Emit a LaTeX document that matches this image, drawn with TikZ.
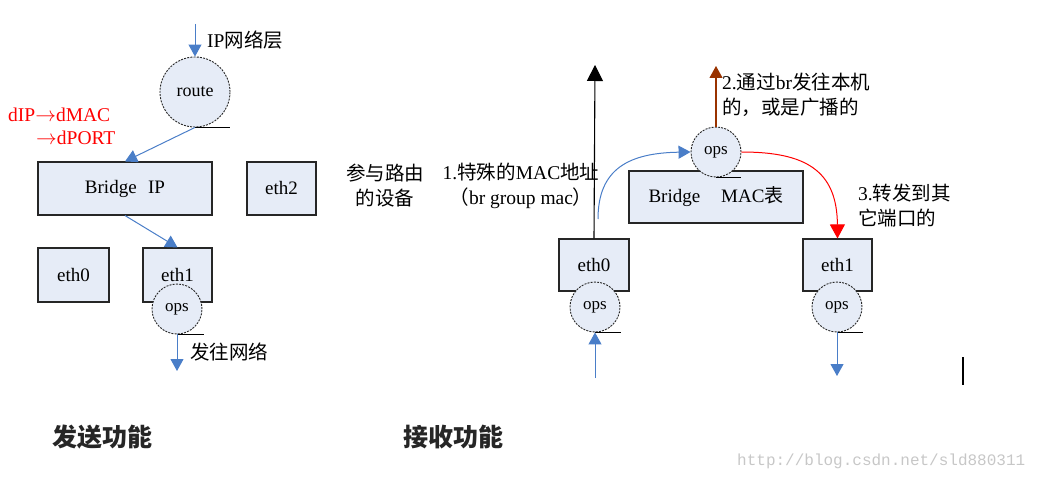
\documentclass[tikz,border=0pt]{standalone}
\usepackage{fontspec}
\setmainfont{Liberation Serif}
\newfontfamily\cjk{Noto Sans CJK SC}
\newfontfamily\wmfont{Liberation Mono}
\usetikzlibrary{arrows.meta}
\newcommand\zh[1]{{\cjk #1}}
\definecolor{boxfill}{HTML}{E6ECF7}
\definecolor{arrblue}{HTML}{4A7EC8}
\definecolor{darkbrn}{HTML}{993300}
\tikzset{
  box/.style={draw=black!85, line width=1.1pt, fill=boxfill, inner sep=0pt,
    font=\fontsize{19}{22}\selectfont},
  opsc/.style={circle, draw=black!85, dash pattern=on 2pt off 1.2pt, line width=0.9pt,
    fill=boxfill, minimum size=50pt, inner sep=0pt, font=\fontsize{17}{19}\selectfont},
  tick/.style={line width=1pt},
  bigtip/.style={-{Triangle[width=13pt,length=12pt]}},
  hugetip/.style={-{Triangle[width=16pt,length=16pt]}},
  barr/.style={arrblue, line width=1pt, bigtip},
  lbl/.style={font=\fontsize{19.5}{25}\selectfont, inner sep=0pt},
  ttl/.style={font=\cjk\bfseries\fontsize{25}{28}\selectfont, text=black!85, inner sep=0pt},
}
\begin{document}
\begin{tikzpicture}[x=1pt,y=-1pt]
\useasboundingbox (0,0) rectangle (1049,481);

% ---------------- left: send ----------------
\node[opsc, minimum size=70pt, font=\fontsize{18}{20}\selectfont] (route) at (195,92) {route};
\coordinate (ipin) at (195,24);
\draw[barr] (ipin) -- (route.north);
\draw[tick] (route.south) -- ++(35,0);
\node[lbl, anchor=west] (iplbl) at (207,40) {IP\zh{网络层}};
\node[lbl, anchor=west, text=red] (red1) at (8,115) {dIP$\rightarrow$dMAC};
\node[lbl, anchor=west, text=red] (red2) at (36,138) {$\rightarrow$dPORT};

\node[box, minimum width=174pt, minimum height=53pt] (brip) at (125,188.5) {Bridge\hspace{0.6em}IP};
\node[box, minimum width=69pt, minimum height=53pt] (eth2) at (281.5,188.5) {eth2};
\node[box, minimum width=71pt, minimum height=54pt] (eth0L) at (73.5,275) {eth0};
\node[box, minimum width=69pt, minimum height=54pt] (eth1L) at (177.5,275) {eth1};
\node[opsc] (opsL) at (177,309) {ops};
\draw[tick] (opsL.south) -- ++(27,0);
\draw[barr] (route.south) -- (brip.north);
\draw[barr] (brip.south) -- (eth1L.north);
\coordinate (outL) at (177,371);
\draw[barr] (opsL.south) -- (outL);
\node[lbl, anchor=west] (outlbl) at (190,352) {\zh{发往网络}};

\node[ttl, anchor=west] (t1) at (52,437) {发送功能};

% ---------------- right: receive ----------------
\node[lbl, align=center] (canyu) at (385,186) {\zh{参与路由}\\\zh{的设备}};
\node[lbl, align=center] (spec) at (521,186) {1.\zh{特殊的}MAC\zh{地址}\\\zh{（}br group mac\zh{）}};

\node[box, minimum width=174pt, minimum height=52pt] (brmac) at (716,197) {Bridge\hspace{1.1em}MAC\zh{表}};
\node[opsc] (opsT) at (716,152) {ops};
\draw[tick] (opsT.south) -- ++(25,0);

\node[box, minimum width=70pt, minimum height=52pt] (eth0R) at (594,265) {eth0};
\node[opsc] (ops0R) at (595,307) {ops};
\draw[tick] (ops0R.south) -- ++(26,0);
\node[box, minimum width=69pt, minimum height=52pt] (eth1R) at (837.5,265) {eth1};
\node[opsc] (ops1R) at (837,307) {ops};
\draw[tick] (ops1R.south) -- ++(26,0);

\coordinate (upT) at (595,65);
\draw[line width=1.1pt, hugetip] (eth0R.north) -- (upT);
\coordinate (cstart) at (598,219);
\draw[arrblue, line width=1pt, bigtip] (cstart) .. controls (598,168) and (630,153) .. (opsT.west);
\coordinate (upB) at (716,66);
\draw[darkbrn, line width=1.1pt, bigtip] (opsT.north) -- (upB);
\draw[red, line width=1pt, -{Triangle[width=15pt,length=14pt]}] (opsT.east) .. controls (805,152) and (837,170) .. (eth1R.north);
\coordinate (inR) at (595,378);
\draw[barr] (inR) -- (ops0R.south);
\coordinate (outR) at (837,376);
\draw[barr] (ops1R.south) -- (outR);

\node[lbl, anchor=north west, align=left] (lbl2) at (722,73) {2.\zh{通过}br\zh{发往本机}\\\zh{的，或是广播的}};
\node[lbl, anchor=north west, align=left] (lbl3) at (858,184) {3.\zh{转发到其}\\\zh{它端口的}};

\draw[line width=1.6pt] (963,357) -- (963,385);

\node[ttl, anchor=west] (t2) at (403,437) {接收功能};
\node[anchor=west, inner sep=0pt, text=black!22, font=\wmfont\fontsize{16}{18}\selectfont] (wm) at (737,461) {http://blog.csdn.net/sld880311};
\end{tikzpicture}
\end{document}
